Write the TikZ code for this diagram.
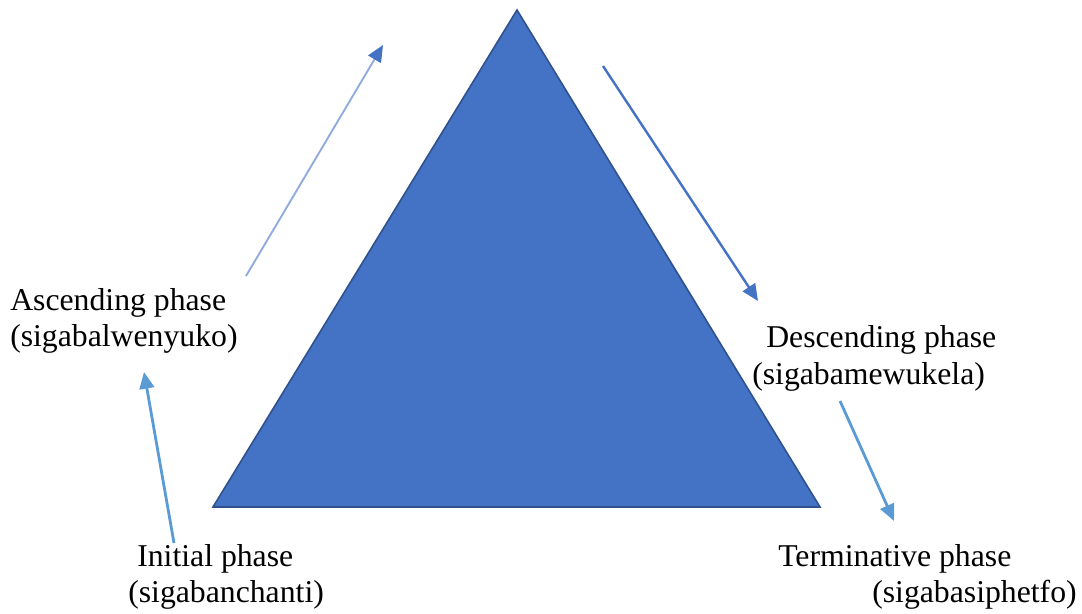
\documentclass[tikz,border=0pt]{standalone}
\usepackage{fontspec}
\setmainfont{Liberation Serif}
\usetikzlibrary{arrows.meta}
\definecolor{tri}{HTML}{4472C4}
\definecolor{triedge}{HTML}{2F528F}
\definecolor{lightblue}{HTML}{8FAADC}
\definecolor{midblue}{HTML}{5B9BD5}
\tikzset{
  lbl/.style={anchor=base west, inner sep=0pt, font=\fontsize{23.8}{28}\selectfont},
  tip/.style={-{Triangle[length=12.5pt,width=11pt]}},
}
\begin{document}
\begin{tikzpicture}[x=0.75pt,y=-0.75pt]
\useasboundingbox (0,0) rectangle (1082,614);
% triangle
\coordinate (top) at (517,10);
\coordinate (bl) at (213,507);
\coordinate (br) at (820,507);
\filldraw[fill=tri, draw=triedge, line width=1.2pt, line join=miter] (top) -- (bl) -- (br) -- cycle;
% arrow end points
\coordinate (a1s) at (246,276);
\coordinate (a1e) at (383,45);
\coordinate (a2s) at (603,66);
\coordinate (a2e) at (758,301);
\coordinate (a3s) at (174,543);
\coordinate (a3e) at (144,372);
\coordinate (a4s) at (840,401);
\coordinate (a4e) at (894,521);
\draw[lightblue, line width=1.4pt, -{Triangle[length=12.5pt,width=11pt,color=tri]}] (a1s) -- (a1e);
\draw[tri, line width=1.8pt, tip] (a2s) -- (a2e);
\draw[midblue, line width=2.1pt, tip] (a3s) -- (a3e);
\draw[midblue, line width=2.1pt, tip] (a4s) -- (a4e);
% labels
\node[lbl] (asc1) at (10,310) {Ascending phase};
\node[lbl] (asc2) at (10,346) {(sigabalwenyuko)};
\node[lbl] (des1) at (766,347) {Descending phase};
\node[lbl] (des2) at (752,384) {(sigabamewukela)};
\node[lbl] (ini1) at (137,566) {Initial phase};
\node[lbl] (ini2) at (128,602) {(sigabanchanti)};
\node[lbl] (ter1) at (778,566) {Terminative phase};
\node[lbl] (ter2) at (872,602) {(sigabasiphetfo)};
\end{tikzpicture}
\end{document}
